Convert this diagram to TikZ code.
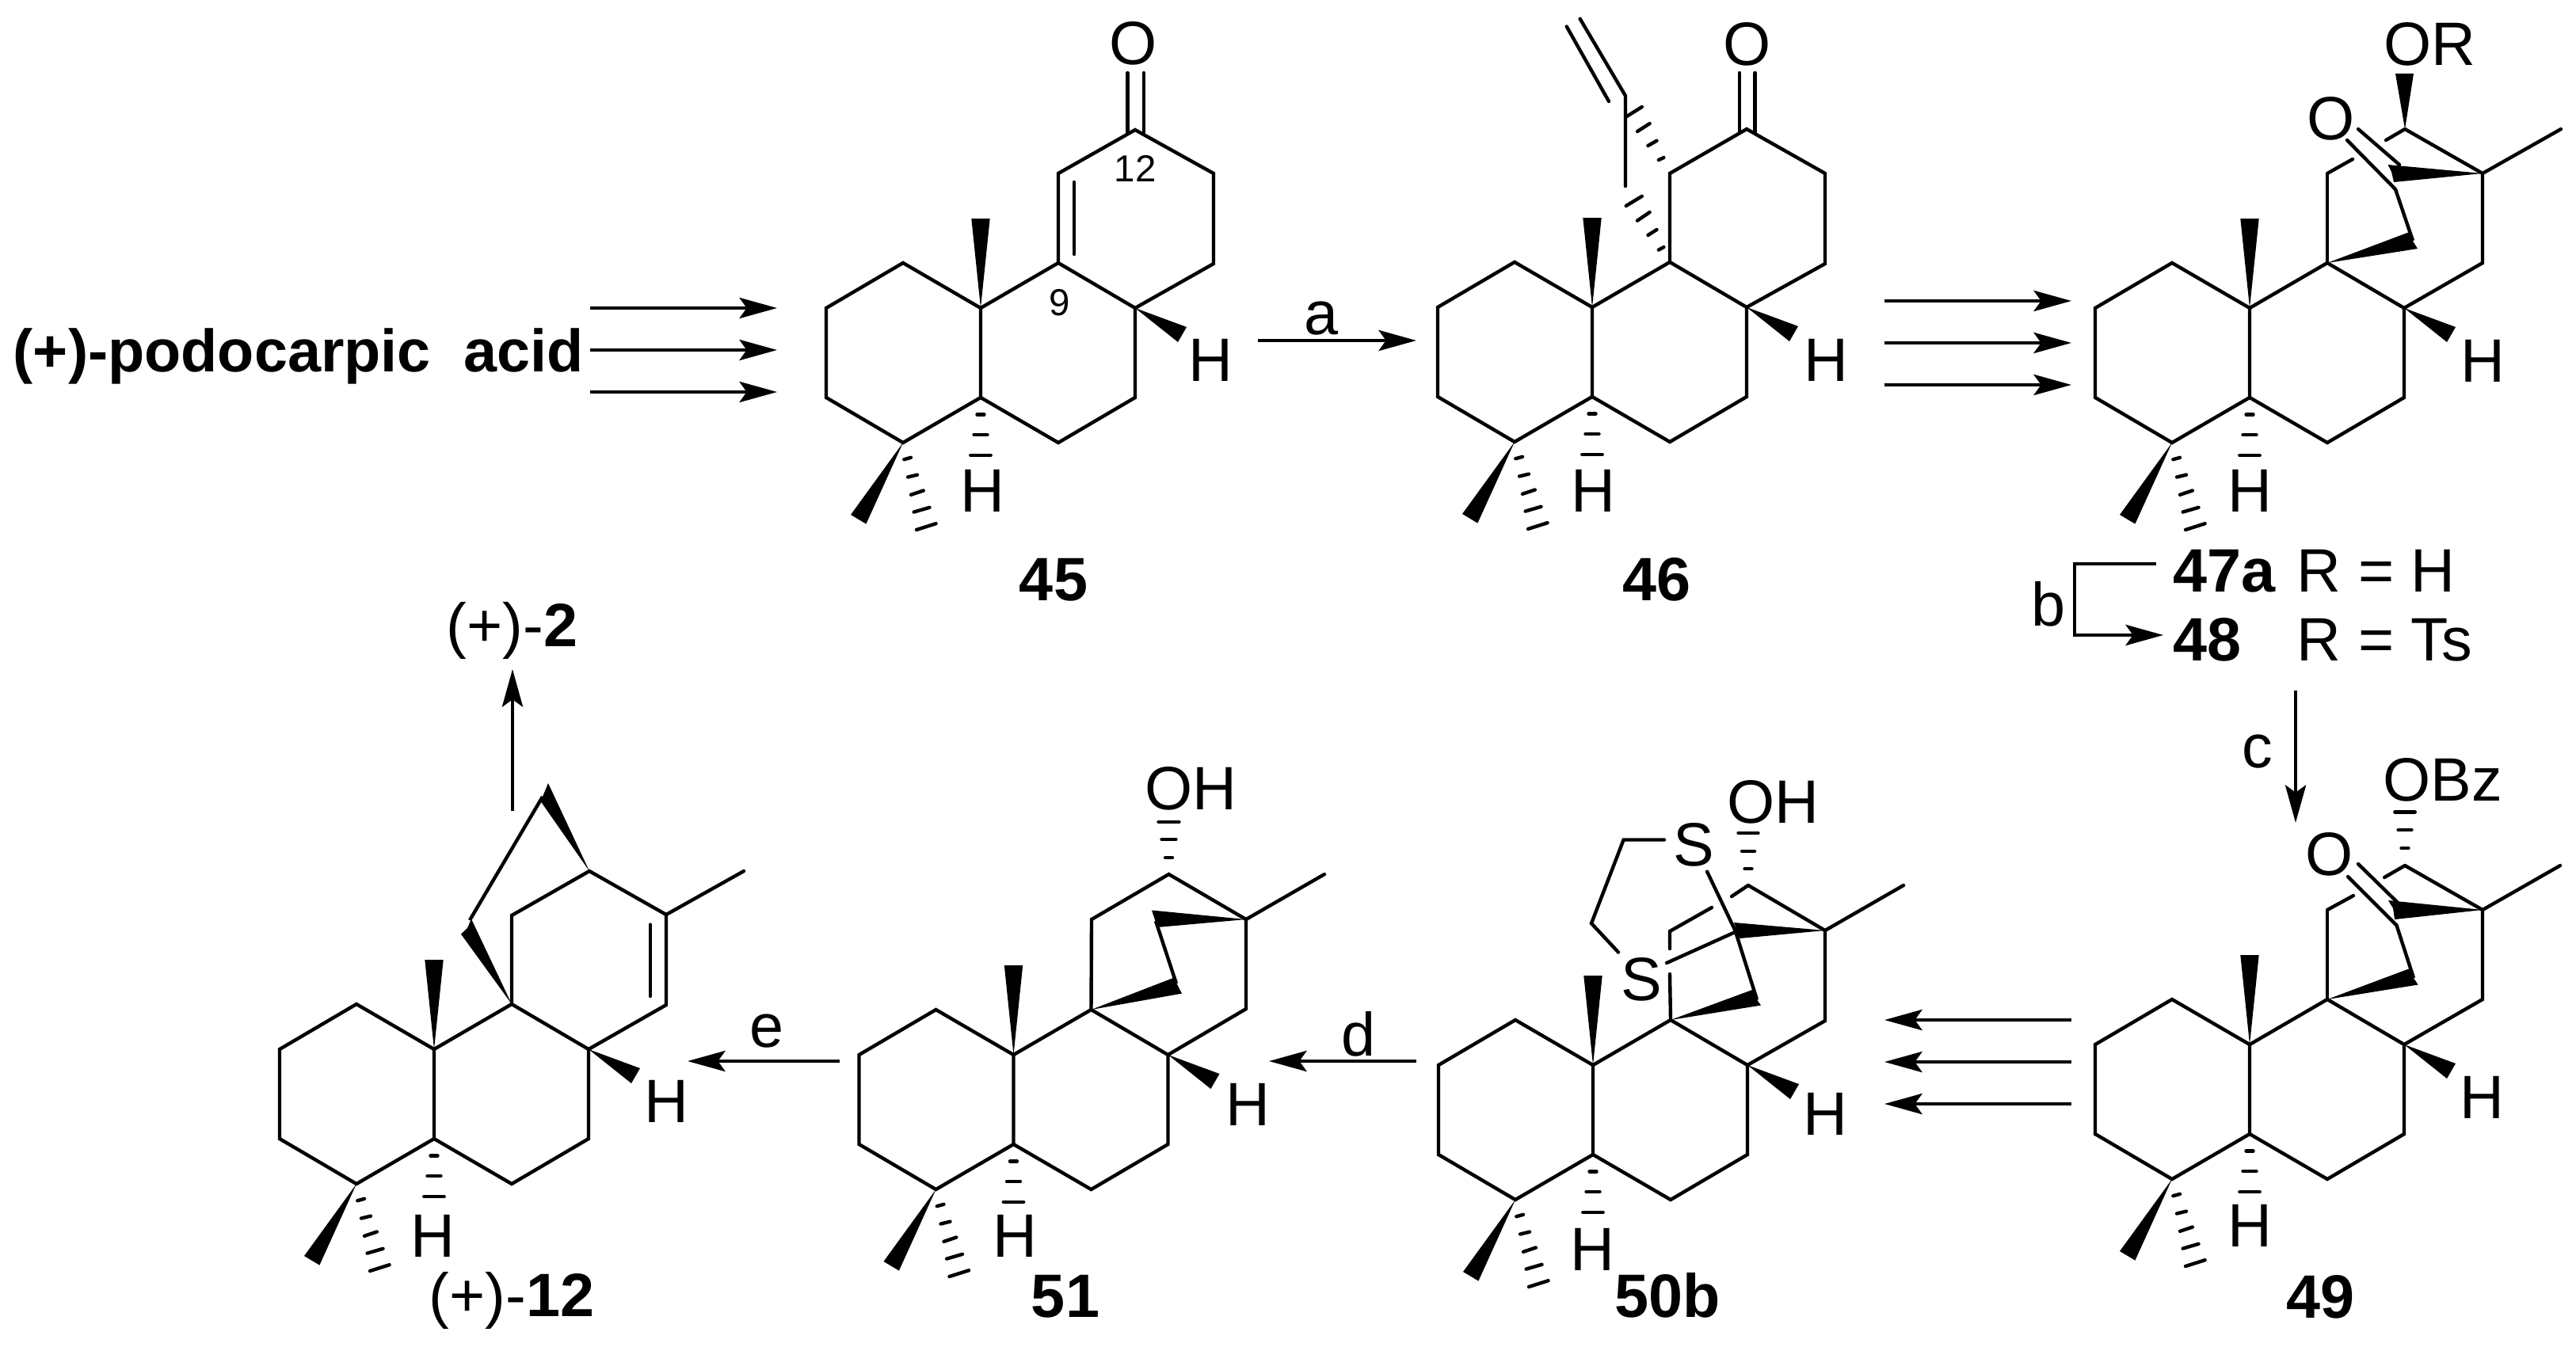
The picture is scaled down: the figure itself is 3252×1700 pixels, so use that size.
\documentclass[tikz,border=0pt]{standalone}
\usepackage{fontspec}
\setmainfont{Liberation Sans}
\usepackage{tikz}
\usetikzlibrary{arrows.meta}

\tikzset{
  bond/.style={line width=1.25pt,line join=miter},
  free/.style={line width=1.25pt,line cap=round},
  hashb/.style={line width=1.25pt,line cap=round},
  wedge/.style={fill=black},
  rxn/.style={line width=1.35pt,-{Stealth[length=13.5pt,width=7.4pt,inset=2.6pt]}},
  lbl/.style={inner sep=0pt,font=\fontsize{22}{26}\selectfont,text height=5.6mm,text depth=0pt},
  tiny/.style={inner sep=0pt,font=\fontsize{13.5}{16}\selectfont,text height=3.4mm,text depth=0pt}
}

% rings A and B with their wedges, origin at the ring fusion atom
\newcommand{\ringsAB}[3]{
\begin{scope}[shift={(#2,#3)}]
\coordinate (#1c10) at (0,0);
\coordinate (#1c1) at (-98,-57);
\coordinate (#1c2) at (-195,0);
\coordinate (#1c3) at (-195,113);
\coordinate (#1c4) at (-98,170);
\coordinate (#1c5) at (0,113);
\coordinate (#1c6) at (98,170);
\coordinate (#1c7) at (195,113);
\coordinate (#1c8) at (195,0);
\coordinate (#1c9) at (98,-57);
\draw[bond] (#1c10) -- (#1c1) -- (#1c2) -- (#1c3) -- (#1c4) -- (#1c5) -- cycle;
\draw[bond] (#1c5) -- (#1c6) -- (#1c7) -- (#1c8) -- (#1c9) -- (#1c10);
\fill[wedge] (#1c10) -- (-11.7,-113) -- (11.7,-113) -- cycle;
\fill[wedge] (#1c8) -- (260,24) -- (249,43) -- cycle;
\fill[wedge] (#1c4) -- (-164,261) -- (-144.6,272.6) -- cycle;
\draw[hashb] (-4.5,134.5) -- (4.5,134.5);
\draw[hashb] (-8.5,160) -- (8.5,160);
\draw[hashb] (-12.7,186) -- (12.7,186);
\draw[hashb] (-96.7,191.2) -- (-88,188.8);
\draw[hashb] (-92,213.5) -- (-80,210.6);
\draw[hashb] (-88,235.8) -- (-72.2,230.5);
\draw[hashb] (-84.4,257.6) -- (-64.5,251.8);
\draw[hashb] (-81,280) -- (-56.4,272.2);
\end{scope}
}

\begin{document}
\begin{tikzpicture}[x=0.01cm,y=-0.01cm]
\useasboundingbox (0,0) rectangle (3252,1700);

% podocarpic acid
\node[lbl,anchor=west,font=\fontsize{21.5}{26}\selectfont\bfseries] (podo) at (16,441) {(+)-podocarpic\ \ acid};
\coordinate (s1a) at (745,389); \coordinate (t1a) at (981,389);
\coordinate (s1b) at (745,442); \coordinate (t1b) at (981,442);
\coordinate (s1c) at (745,495); \coordinate (t1c) at (981,495);
\draw[rxn] (s1a) -- (t1a);
\draw[rxn] (s1b) -- (t1b);
\draw[rxn] (s1c) -- (t1c);

% 45
\ringsAB{p}{1238}{389}
\coordinate (pc11) at (1336,219);
\coordinate (pc12) at (1433,164);
\coordinate (pc13) at (1532,219);
\coordinate (pc14) at (1532,333);
\draw[bond] (pc9) -- (pc11) -- (pc12) -- (pc13) -- (pc14) -- (pc8);
\draw[free] (1356,230) -- (1356,321);
\draw[free] (1423.5,92) -- (1423.5,167);
\draw[free] (1444,92) -- (1444,167);
\node[lbl] (pO) at (1431,53) {O};
\node[lbl] (pHa) at (1528,453) {H};
\node[lbl] (pHb) at (1240,618) {H};
\node[tiny] (p12) at (1433,212) {12};
\node[tiny] (p9) at (1338,381) {9};
\node[lbl,font=\fontsize{22}{26}\selectfont\bfseries] (n45) at (1330,730) {45};

\coordinate (s2) at (1588,430); \coordinate (t2) at (1788,430);
\draw[rxn] (s2) -- (t2);
\node[lbl] (stepa) at (1668,394) {a};

% 46
\ringsAB{q}{2010}{388}
\coordinate (qc11) at (2108,219);
\coordinate (qc12) at (2205,163);
\coordinate (qc13) at (2304,219);
\coordinate (qc14) at (2304,333);
\draw[bond] (qc9) -- (qc11) -- (qc12) -- (qc13) -- (qc14) -- (qc8);
\draw[free] (2196,92) -- (2196,167);
\draw[free] (2215.6,92) -- (2215.6,167);
\node[lbl] (qO) at (2206,54) {O};
\draw[free] (2052,235) -- (2052,121) -- (1994.6,23.7);
\draw[free] (1977.7,33.5) -- (2031,128);
\draw[hashb] (2093.8,202) -- (2100.4,199);
\draw[hashb] (2080.4,184) -- (2091.5,177.7);
\draw[hashb] (2067,166) -- (2082.6,156);
\draw[hashb] (2053.6,147) -- (2072.8,135);
\draw[hashb] (2093.8,315.6) -- (2100.4,312);
\draw[hashb] (2080.4,297) -- (2091.5,290);
\draw[hashb] (2067,278.6) -- (2082.6,268);
\draw[hashb] (2052.7,260) -- (2072.8,247.8);
\node[lbl] (qHa) at (2305,453) {H};
\node[lbl] (qHb) at (2011,618) {H};
\node[lbl,font=\fontsize{22}{26}\selectfont\bfseries] (n46) at (2091,730) {46};

\coordinate (s3a) at (2379,380); \coordinate (t3a) at (2615,380);
\coordinate (s3b) at (2379,433); \coordinate (t3b) at (2615,433);
\coordinate (s3c) at (2379,486); \coordinate (t3c) at (2615,486);
\draw[rxn] (s3a) -- (t3a);
\draw[rxn] (s3b) -- (t3b);
\draw[rxn] (s3c) -- (t3c);

% 47a / 48
\ringsAB{r}{2840}{389}
\coordinate (rc13) at (3134,219);
\coordinate (rc14) at (3134,332);
\coordinate (rc15) at (3036,163);
\coordinate (rc16) at (2938,219);
\draw[free] (3012,177) -- (rc15);
\draw[bond] (rc15) -- (rc13) -- (rc14) -- (rc8);
\draw[free] (rc13) -- (3233,163);
\draw[free] (2970,201) -- (rc16);
\draw[bond] (rc16) -- (rc9);
\fill[wedge] (rc13) -- (3014.5,208) -- (3019,217) -- (3022,230) -- cycle;
\fill[wedge] (rc9) -- (3040.4,293.5) -- (3045,303) -- (3052,314) -- cycle;
\draw[bond] (3024,239) -- (3046,304);
\draw[free] (2977,163) -- (3029,208);
\draw[free] (2963,177) -- (3024,239);
\fill[wedge] (rc15) -- (3024,93) -- (3047,93) -- cycle;
\node[lbl] (rO) at (2943,148) {O};
\node[lbl,anchor=west] (rOR) at (3009,54) {OR};
\node[lbl] (rHa) at (3134,454) {H};
\node[lbl] (rHb) at (2840,618) {H};
\node[lbl,anchor=west,font=\fontsize{22}{26}\selectfont\bfseries] (n47a) at (2743,719) {47a};
\node[lbl,anchor=west] (r47) at (2899,719) {R = H};
\node[lbl,anchor=west,font=\fontsize{22}{26}\selectfont\bfseries] (n48) at (2743,806) {48};
\node[lbl,anchor=west] (r48) at (2899,806) {R = Ts};
\coordinate (s4) at (2722,712); \coordinate (k4a) at (2619,712);
\coordinate (k4b) at (2619,802); \coordinate (t4) at (2731,802);
\draw[rxn,line join=miter] (s4) -- (k4a) -- (k4b) -- (t4);
\node[lbl] (stepb) at (2586,762) {b};

\coordinate (s5) at (2898,872); \coordinate (t5) at (2898,1039);
\draw[rxn] (s5) -- (t5);
\node[lbl] (stepc) at (2850,941) {c};

% 49
\ringsAB{u}{2840}{1319}
\coordinate (uc13) at (3134,1149);
\coordinate (uc14) at (3134,1262);
\coordinate (uc15) at (3036,1093);
\coordinate (uc16) at (2938,1149);
\draw[free] (3010,1108) -- (uc15);
\draw[bond] (uc15) -- (uc13) -- (uc14) -- (uc8);
\draw[free] (uc13) -- (3232,1093);
\draw[free] (2971,1131) -- (uc16);
\draw[bond] (uc16) -- (uc9);
\fill[wedge] (uc13) -- (3015,1137) -- (3021,1147) -- (3023,1161) -- cycle;
\fill[wedge] (uc9) -- (3042,1223) -- (3047,1235) -- (3052.5,1243.5) -- cycle;
\draw[bond] (3025,1167) -- (3047,1235);
\draw[free] (2977,1091) -- (3026,1139);
\draw[free] (2964,1107) -- (3025,1168);
\draw[hashb] (3031.5,1071) -- (3040.5,1071);
\draw[hashb] (3027.6,1048) -- (3044.4,1048);
\draw[hashb] (3023.3,1025.6) -- (3048.7,1025.6);
\node[lbl] (uO) at (2941,1077) {O};
\node[lbl,anchor=west] (uOBz) at (3008,983) {OBz};
\node[lbl] (uHa) at (3133,1384) {H};
\node[lbl] (uHb) at (2840,1546) {H};
\node[lbl,font=\fontsize{22}{26}\selectfont\bfseries] (n49) at (2929,1636) {49};

\coordinate (s6a) at (2615,1288); \coordinate (t6a) at (2379,1288);
\coordinate (s6b) at (2615,1341); \coordinate (t6b) at (2379,1341);
\coordinate (s6c) at (2615,1394); \coordinate (t6c) at (2379,1394);
\draw[rxn] (s6a) -- (t6a);
\draw[rxn] (s6b) -- (t6b);
\draw[rxn] (s6c) -- (t6c);

% 50b
\ringsAB{v}{2011}{1345}
\coordinate (vc13) at (2304,1175);
\coordinate (vc14) at (2304,1289);
\coordinate (vc15) at (2207,1118);
\coordinate (vc16) at (2108,1176);
\draw[free] (2186,1132) -- (vc15);
\draw[bond] (vc15) -- (vc13) -- (vc14) -- (vc8);
\draw[free] (vc13) -- (2403,1118);
\draw[free] (vc9) -- (2108,1230);
\draw[free] (2108,1198) -- (vc16) -- (2161,1146);
\fill[wedge] (vc13) -- (2189,1165) -- (2196,1185) -- cycle;
\fill[wedge] (vc9) -- (2212,1250) -- (2217,1261) -- (2223,1269.5) -- cycle;
\draw[free] (2155,1100.6) -- (2190.5,1175) -- (2217.6,1261);
\draw[free] (2104,1216) -- (2190.5,1177);
\draw[free] (2101,1060.5) -- (2049.6,1060.5) -- (2009,1166) -- (2043,1202.5);
\draw[hashb] (2202.5,1097) -- (2211.5,1097);
\draw[hashb] (2199,1075) -- (2215,1075);
\draw[hashb] (2194.5,1052) -- (2219.5,1052);
\node[lbl] (vS1) at (2138,1065) {S};
\node[lbl] (vS2) at (2072,1235) {S};
\node[lbl,anchor=west] (vOH) at (2180,1011) {OH};
\node[lbl] (vHa) at (2304,1405) {H};
\node[lbl] (vHb) at (2010,1576) {H};
\node[lbl,font=\fontsize{22}{26}\selectfont\bfseries] (n50b) at (2105,1635) {50b};

\coordinate (s7) at (1788,1340); \coordinate (t7) at (1602,1340);
\draw[rxn] (s7) -- (t7);
\node[lbl] (stepd) at (1715,1305) {d};

% 51
\ringsAB{w}{1279.5}{1332}
\coordinate (wc11) at (1378,1161);
\coordinate (wc12) at (1475.5,1104);
\coordinate (wc13) at (1573,1161);
\coordinate (wc14) at (1573,1274);
\draw[bond] (wc9) -- (wc11) -- (wc12) -- (wc13) -- (wc14) -- (wc8);
\draw[free] (wc13) -- (1672,1104);
\fill[wedge] (wc13) -- (1454,1149.5) -- (1461,1171) -- cycle;
\fill[wedge] (wc9) -- (1481,1235) -- (1486,1243) -- (1492,1254.6) -- cycle;
\draw[bond] (1459,1163) -- (1485,1242);
\draw[hashb] (1471,1083) -- (1480,1083);
\draw[hashb] (1466.5,1060) -- (1484.5,1060);
\draw[hashb] (1462.5,1038) -- (1488.5,1038);
\node[lbl,anchor=west] (wOH) at (1445,994) {OH};
\node[lbl] (wHa) at (1575,1393) {H};
\node[lbl] (wHb) at (1281,1559) {H};
\node[lbl,font=\fontsize{22}{26}\selectfont\bfseries] (n51) at (1345,1635) {51};

\coordinate (s8) at (1060,1340); \coordinate (t8) at (868,1340);
\draw[rxn] (s8) -- (t8);
\node[lbl] (stepe) at (968,1294) {e};

% (+)-12
\ringsAB{x}{548}{1325}
\coordinate (xc11) at (646,1156);
\coordinate (xc12) at (744,1100);
\coordinate (xc13) at (841,1155);
\coordinate (xc14) at (841,1269);
\draw[bond] (xc9) -- (xc11) -- (xc12) -- (xc13) -- (xc14) -- (xc8);
\draw[free] (xc13) -- (939,1100);
\draw[free] (821,1167.5) -- (821,1258);
\fill[wedge] (xc12) -- (692,989) -- (685,1006) -- (683,1012.5) -- cycle;
\fill[wedge] (xc9) -- (595,1160.5) -- (590,1172) -- (582,1179.6) -- cycle;
\draw[bond] (685,1006) -- (593,1162);
\node[lbl] (xHa) at (841,1389) {H};
\node[lbl] (xHb) at (546,1559) {H};
\node[lbl,anchor=west] (n12) at (541,1634) {(+)-\textbf{12}};

\coordinate (s9) at (647,1024); \coordinate (t9) at (647,845);
\draw[rxn] (s9) -- (t9);
\node[lbl,anchor=west] (n2) at (563,788) {(+)-\textbf{2}};

\end{tikzpicture}
\end{document}
